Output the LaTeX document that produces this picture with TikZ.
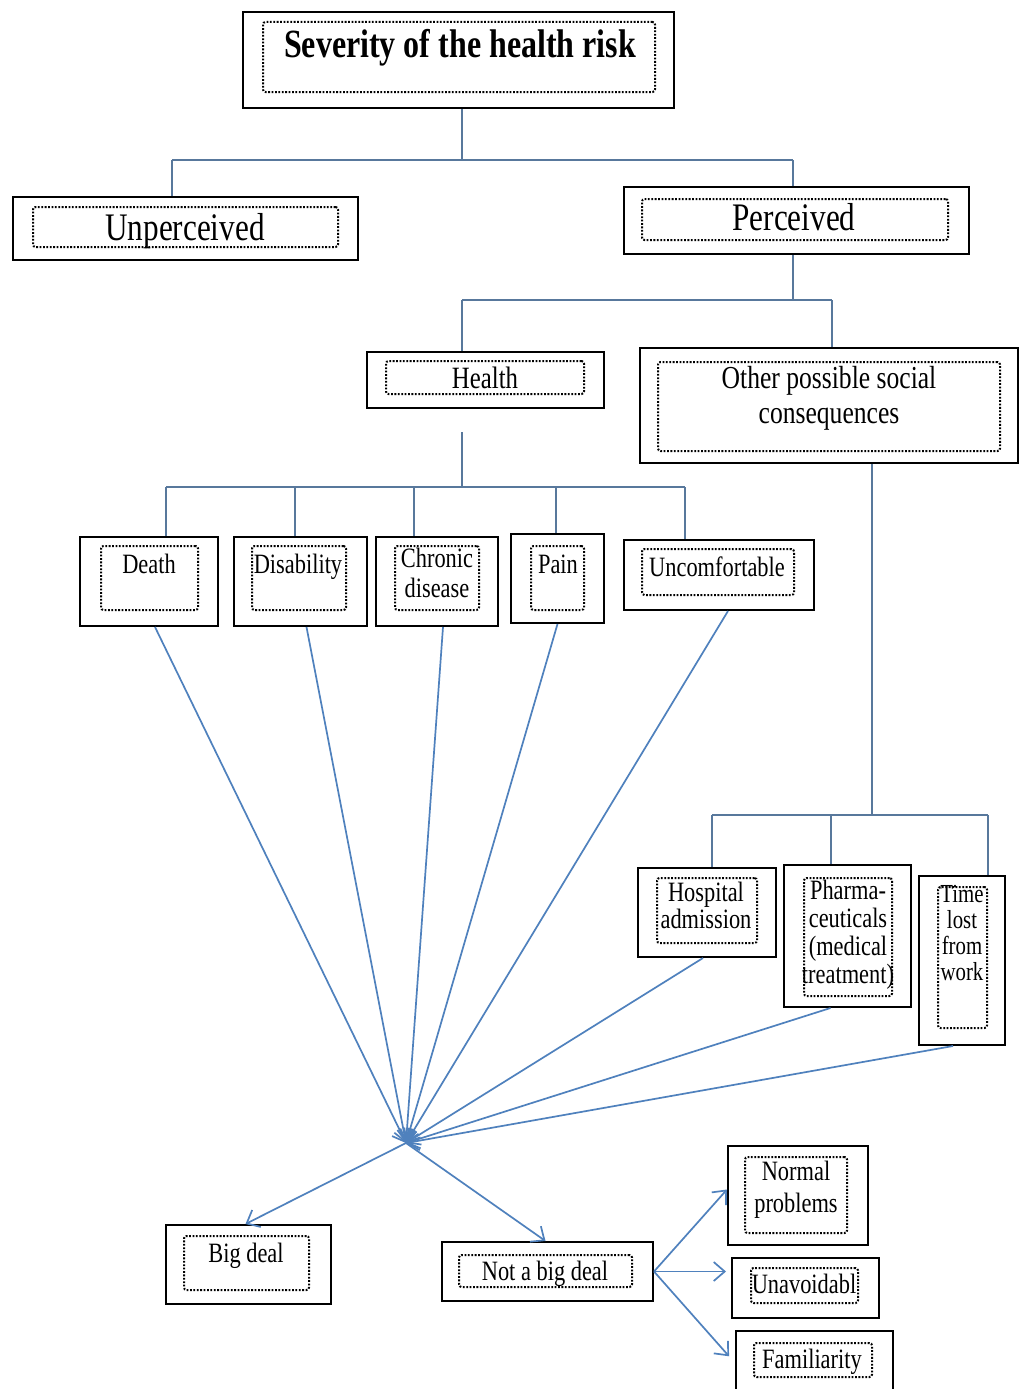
\documentclass[tikz,border=0pt]{standalone}
\usepackage{fontspec}
\setmainfont{Liberation Serif}[FakeStretch=0.8]
\usetikzlibrary{arrows.meta,fit,calc}

\definecolor{treeline}{RGB}{88,120,156}
\definecolor{flowline}{RGB}{79,129,189}

\tikzset{
  outerbox/.style={draw=black, line width=2pt, inner sep=0pt, fit={#1}},
  innerbox/.style={draw=black, line width=2pt, dash pattern=on 1.8pt off 1.6pt,
                   rounded corners=2.5pt, inner sep=0pt, fit={#1}},
  % multi-line labels sit on the baseline of their last line
  lbl/.style={inner sep=0pt, anchor=base, align=center},
  small/.style={lbl, font=\fontsize{28}{#1}\selectfont},
  small/.default=29,
  tree/.style={draw=treeline, line width=1.6pt},
  flow/.style={draw=flowline, line width=1.7pt,
               -{Straight Barb[length=11pt,width=19pt,line width=1.7pt]}},
}

\begin{document}
\begin{tikzpicture}[x=1pt, y=-1pt]
  \fill[white] (0,0) rectangle (1019,1389);
  \useasboundingbox (0,0) rectangle (1019,1389);

  % ---- root ----
  \node[outerbox={(243,12) (674,108)}] (top) {};
  \node[innerbox={(263,22) (655,92)}] (top-in) {};
  \node[lbl, font=\fontsize{40}{42}\selectfont\bfseries] (top-t) at (460,58) {Severity of the health risk};

  % ---- first level ----
  \node[outerbox={(13,197) (358,260)}] (unperc) {};
  \node[innerbox={(33,207) (338,247)}] (unperc-in) {};
  \node[lbl, font=\fontsize{39}{41}\selectfont] (unperc-t) at (185,240) {Unperceived};

  \node[outerbox={(624,187) (969,254)}] (perc) {};
  \node[innerbox={(642,199) (948,240)}] (perc-in) {};
  \node[lbl, font=\fontsize{39}{41}\selectfont] (perc-t) at (794,230) {Perceived};

  % ---- second level ----
  \node[outerbox={(367,352) (604,408)}] (health) {};
  \node[innerbox={(386,361) (584,394)}] (health-in) {};
  \node[lbl, font=\fontsize{31}{33}\selectfont] (health-t) at (485,388) {Health};

  \node[outerbox={(640,348) (1018,463)}] (other) {};
  \node[innerbox={(658,362) (1000,451)}] (other-in) {};
  \node[lbl, font=\fontsize{32}{35}\selectfont] (other-t) at (829,423) {Other possible social\\consequences};

  % ---- health outcomes ----
  \node[outerbox={(80,537) (218,626)}] (death) {};
  \node[innerbox={(101,546) (198,610)}] (death-in) {};
  \node[small] (death-t) at (149,573) {Death};

  \node[outerbox={(234,537) (367,626)}] (disab) {};
  \node[innerbox={(252,546) (346,610)}] (disab-in) {};
  \node[small] (disab-t) at (298,573) {Disability};

  \node[outerbox={(376,537) (498,626)}] (chronic) {};
  \node[innerbox={(395,546) (479,610)}] (chronic-in) {};
  \node[small=30] (chronic-t) at (437,597) {Chronic\\disease};

  \node[outerbox={(511,534) (604,623)}] (pain) {};
  \node[innerbox={(531,546) (584,610)}] (pain-in) {};
  \node[small] (pain-t) at (558,573) {Pain};

  \node[outerbox={(624,540) (814,610)}] (uncomf) {};
  \node[innerbox={(642,549) (794,595)}] (uncomf-in) {};
  \node[small] (uncomf-t) at (717,576) {Uncomfortable};

  % ---- social consequences ----
  \node[outerbox={(638,868) (776,957)}] (hosp) {};
  \node[innerbox={(657,878) (757,943)}] (hosp-in) {};
  \node[small=25] (hosp-t) at (706,928) {Hospital\\admission};

  \node[outerbox={(784,865) (911,1007)}] (pharma) {};
  \node[innerbox={(804,878) (892,996)}] (pharma-in) {};
  \node[small=28] (pharma-t) at (848,983) {Pharma-\\ceuticals\\(medical\\treatment)};

  \node[outerbox={(919,876) (1005,1045)}] (time) {};
  \node[innerbox={(938,887) (987,1028)}] (time-in) {};
  \node[lbl, font=\fontsize{26}{26}\selectfont] (time-t) at (962,980) {Time\\lost\\from\\work};

  % ---- judgement ----
  \node[outerbox={(166,1225) (331,1304)}] (bigdeal) {};
  \node[innerbox={(184,1236) (309,1290)}] (bigdeal-in) {};
  \node[small] (bigdeal-t) at (246,1262) {Big deal};

  \node[outerbox={(442,1242) (653,1301)}] (notbig) {};
  \node[innerbox={(459,1255) (632,1287)}] (notbig-in) {};
  \node[small] (notbig-t) at (545,1280) {Not a big deal};

  \node[outerbox={(728,1146) (868,1245)}] (normal) {};
  \node[innerbox={(745,1157) (847,1233)}] (normal-in) {};
  \node[small=32] (normal-t) at (796,1212) {Normal\\problems};

  \node[outerbox={(732,1258) (879,1318)}] (unav) {};
  \node[innerbox={(751,1268) (858,1303)}] (unav-in) {};
  \node[small] (unav-t) at (804,1293) {Unavoidabl};

  \node[outerbox={(736,1331) (893,1395)}] (famil) {};
  \node[innerbox={(754,1343) (872,1377)}] (famil-in) {};
  \node[small] (famil-t) at (812,1368) {Familiarity};

  % ---- tree connectors ----
  \coordinate (j1) at (462,160);
  \coordinate (l1) at (172,160);
  \coordinate (r1) at (793,160);
  \path[tree] (top.south -| j1) -- (j1)
              (l1) -- (r1)
              (l1) -- (l1 |- unperc.north)
              (r1) -- (r1 |- perc.north);

  \coordinate (j2) at (793,300);
  \coordinate (l2) at (462,300);
  \coordinate (r2) at (832,300);
  \path[tree] (perc.south -| j2) -- (j2)
              (l2) -- (r2)
              (l2) -- (l2 |- health.north)
              (r2) -- (r2 |- other.north);

  \coordinate (hs) at (462,432);
  \coordinate (j3) at (462,487);
  \coordinate (l3) at (166,487);
  \coordinate (r3) at (685,487);
  \path[tree] (hs) -- (j3)
              (l3) -- (r3)
              (l3) -- (l3 |- death.north)
              (295,487) -- (295,487 |- disab.north)
              (414,487) -- (414,487 |- chronic.north)
              (556,487) -- (556,487 |- pain.north)
              (r3) -- (r3 |- uncomf.north);

  \coordinate (j4) at (872,815);
  \coordinate (l4) at (712,815);
  \coordinate (r4) at (988,815);
  \path[tree] (other.south -| j4) -- (j4)
              (l4) -- (r4)
              (l4) -- (l4 |- hosp.north)
              (831,815) -- (831,815 |- pharma.north)
              (r4) -- (r4 |- time.north);

  % ---- arrows into the judgement point ----
  \coordinate (hub) at (406,1143);
  \draw[flow] ([xshift=6pt]death.south) -- (hub);
  \draw[flow] ([xshift=6pt]disab.south) -- (hub);
  \draw[flow] ([xshift=6pt]chronic.south) -- (hub);
  \draw[flow] (pain.south) -- (hub);
  \draw[flow] ([xshift=9pt]uncomf.south) -- (hub);
  \draw[flow] ([xshift=-4pt]hosp.south) -- (hub);
  \draw[flow] ([xshift=-17pt]pharma.south) -- (hub);
  \draw[flow] ([xshift=-9pt]time.south) -- (hub);

  % ---- arrows out of the judgement point ----
  \draw[flow] (hub) -- ([xshift=-3pt]bigdeal.north);
  \draw[flow] (hub) -- ([xshift=-2pt]notbig.north);
  \draw[flow] (notbig.east) -- ([yshift=6pt]normal.west);
  \draw[flow, shorten >=5pt] (notbig.east) -- (notbig.east -| unav.west);
  \draw[flow, shorten >=9pt] (notbig.east) -- (famil.west);
\end{tikzpicture}
\end{document}
